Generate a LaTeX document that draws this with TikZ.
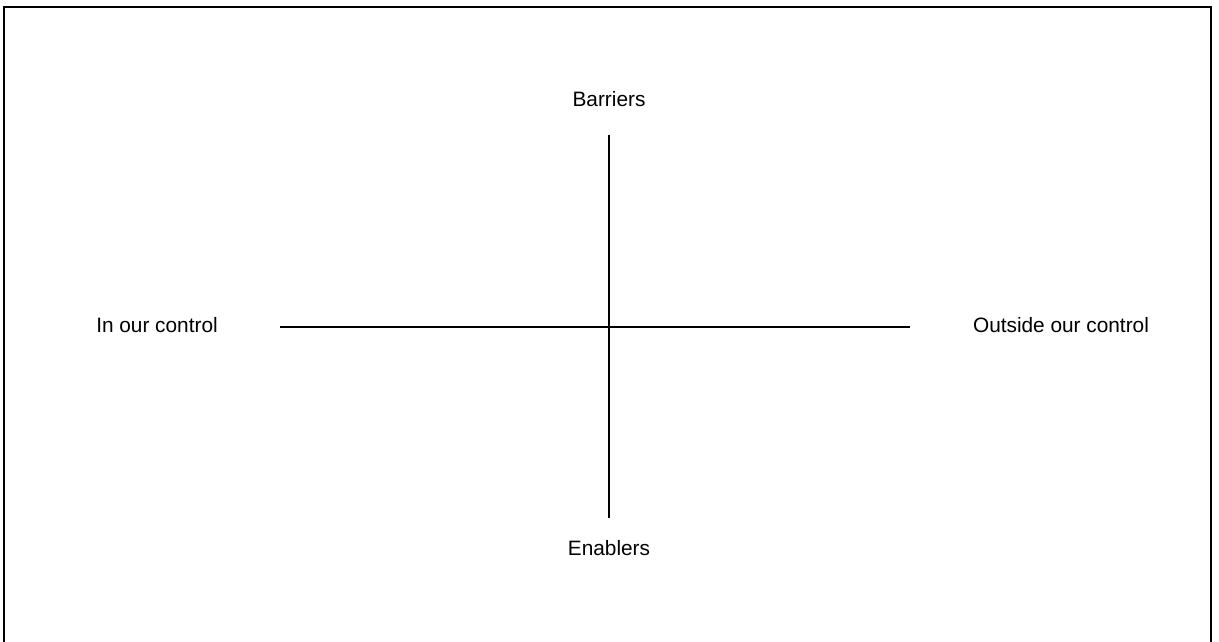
\documentclass[tikz,border=0pt]{standalone}
\usepackage{fontspec}
\setmainfont{Liberation Sans}
\usepackage{tikz}
\usetikzlibrary{positioning}

\begin{document}
\begin{tikzpicture}[x=0.025cm, y=-0.025cm, thick]
    \useasboundingbox (0, 0) rectangle (1219, 642);
    \tikzset{label text/.style={font=\fontsize{14.8}{17}\selectfont, inner sep=0pt}}

    % open frame
    \draw[line width=1.2pt] (4, 642) -- (4, 7) -- (1211, 7) -- (1211, 642);

    \node[label text] (barriers) at (609, 99) {Barriers};
    \node[label text] (enablers) at (609, 548) {Enablers};
    \node[label text] (inside) at (157, 325) {In our control};
    \node[label text] (outside) at (1061, 325) {Outside our control};

    \coordinate (top) at (609, 135);
    \coordinate (bottom) at (609, 518);
    \coordinate (left) at (280, 327);
    \coordinate (right) at (910, 327);

    \draw (top) -- (bottom);
    \draw (left) -- (right);
\end{tikzpicture}
\end{document}
